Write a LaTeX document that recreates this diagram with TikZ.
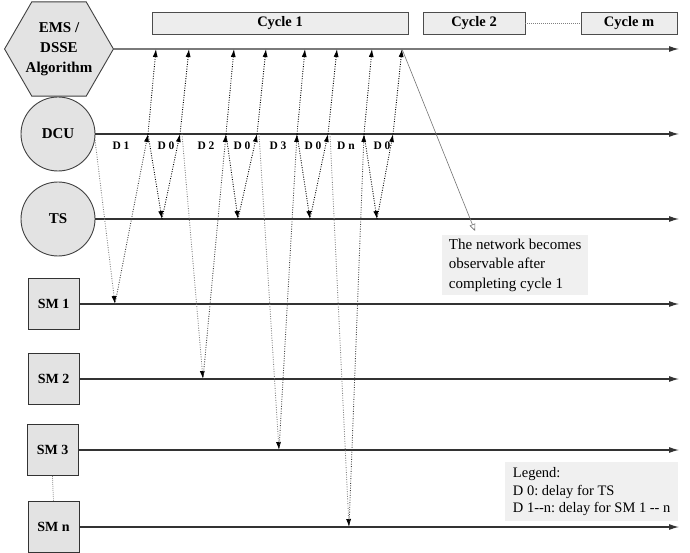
\documentclass[tikz,border=0pt]{standalone}
\usepackage{fontspec}
\setmainfont{Liberation Serif}
\usetikzlibrary{shapes.geometric,arrows.meta}
\newcommand\hyph{\mbox{-}}
\frenchspacing

\begin{document}
\begin{tikzpicture}[x=1pt,y=-1pt,
  actor/.style={draw=black!75, fill=black!11, line width=0.9pt, inner sep=0pt,
    font=\fontsize{15}{20}\selectfont\bfseries, align=center},
  smbox/.style={draw=black!80, fill=black!11, line width=0.9pt, minimum width=51pt,
    minimum height=51pt, inner sep=0pt, font=\fontsize{14}{16}\selectfont\bfseries},
  cyclebox/.style={draw=black!70, fill=black!7, line width=0.8pt, minimum height=22pt,
    inner sep=0pt, font=\fontsize{14.5}{16}\selectfont\bfseries},
  timeline/.style={draw=black!80, line width=1.1pt, -{Latex[length=10pt,width=6pt]}},
  msg/.style={line width=0.9pt, dash pattern=on 0.9pt off 1.5pt,
    -{Latex[length=8pt,width=5pt,color=black]}},
  sendsm/.style={msg, draw=black!50},
  backsm/.style={msg, draw=black!75},
  relay/.style={msg, draw=black},
  delay/.style={font=\fontsize{11.5}{13}\selectfont\bfseries, inner sep=0pt},
  note/.style={fill=black!6, inner sep=0pt, align=left, anchor=north west}
]
\useasboundingbox (0,0) rectangle (690,553);

% actors
\node[actor, regular polygon, regular polygon sides=6, minimum size=100pt] (ems) at (59,49)
  {EMS /\\DSSE\\Algorithm};
\node[actor, circle, minimum size=74pt] (dcu) at (58,134) {DCU};
\node[actor, circle, minimum size=74pt] (ts) at (58,219) {TS};
\node[smbox] (sm1) at (53.5,304) {SM 1};
\node[smbox] (sm2) at (53.5,379) {SM 2};
\node[smbox] (sm3) at (52.5,450) {SM 3};
\node[smbox] (smn) at (53.5,527) {SM n};
\draw[black!55, line width=0.7pt, dash pattern=on 0.8pt off 1.2pt] (sm3.south) -- (smn.north);

% cycles
\node[cyclebox, minimum width=256pt] (cyc1) at (280,23) {Cycle 1};
\node[cyclebox, minimum width=102pt] (cyc2) at (474,23) {Cycle 2};
\node[cyclebox, minimum width=96pt] (cycm) at (629,23) {Cycle m};
\draw[black!50, line width=0.7pt, dash pattern=on 0.8pt off 1.2pt] (cyc2.east) -- (cycm.west);

% ends of the time axes
\coordinate (emsend) at (679,49);
\coordinate (dcuend) at (679,134);
\coordinate (tsend) at (679,219);
\coordinate (sm1end) at (679,304);
\coordinate (sm2end) at (679,379);
\coordinate (sm3end) at (679,450);
\coordinate (smnend) at (679,527);

\draw[timeline] (ems.east) -- (emsend);
\draw[timeline] (dcu.east) -- (dcuend);
\draw[timeline] (ts.east) -- (tsend);
\draw[timeline] (sm1.east) -- (sm1end);
\draw[timeline] (sm2.east) -- (sm2end);
\draw[timeline] (sm3.east) -- (sm3end);
\draw[timeline] (smn.east) -- (smnend);

% message events: start on DCU, meter reading, relay, TS request/reply, relay
\coordinate (a1) at (95,140);
\foreach \k/\a/\s/\sy/\b/\t/\c in
  {1/95/115/304/148/162/180, 2/181/203/379/226/238/257,
   3/258/279/450/297/310/328, 4/329/349/527/364/377/393}{
  \coordinate (s\k) at (\s,\sy);
  \coordinate (b\k) at (\b,134);
  \coordinate (t\k) at (\t,219);
  \coordinate (c\k) at (\c,134);
  \coordinate (eb\k) at (\b+8,49);
  \coordinate (ec\k) at (\c+9,49);
}
\coordinate (a2) at (182,134);
\coordinate (a3) at (259,134);
\coordinate (a4) at (330,134);

\foreach \k in {1,2,3,4}{
  \draw[sendsm] (a\k) -- (s\k);
  \draw[backsm] (s\k) -- (b\k);
  \draw[relay] (b\k) -- (eb\k);
  \draw[relay] (b\k) -- (t\k);
  \draw[relay] (t\k) -- (c\k);
  \draw[relay] (c\k) -- (ec\k);
}

% delay labels
\node[delay] (d1) at (121,146) {D 1};
\node[delay] (d01) at (166,146) {D 0};
\node[delay] (d2) at (206,146) {D 2};
\node[delay] (d02) at (242,146) {D 0};
\node[delay] (d3) at (278,146) {D 3};
\node[delay] (d03) at (313,146) {D 0};
\node[delay] (dn) at (346,146) {D n};
\node[delay] (d04) at (382,146) {D 0};

% observability note
\node[note, minimum width=146pt, minimum height=60pt, inner xsep=6pt,
  font=\fontsize{15}{19.5}\selectfont] (obs) at (442,235)
  {The network becomes\\observable after\\completing cycle 1};
\coordinate (obspt) at (475,231);
\draw[black!55, line width=0.6pt, -{Triangle[open,length=7pt,width=6pt]}]
  (ec4) -- (obspt);

% legend
\node[note, minimum width=173pt, minimum height=59pt, inner xsep=1.5pt,
  font=\fontsize{14.5}{17.5}\selectfont] (legend) at (505,462)
  {Legend:\\D 0: delay for TS\\D 1\hyph\hyph n: delay for SM 1 \hyph\hyph{} n};
\end{tikzpicture}
\end{document}
